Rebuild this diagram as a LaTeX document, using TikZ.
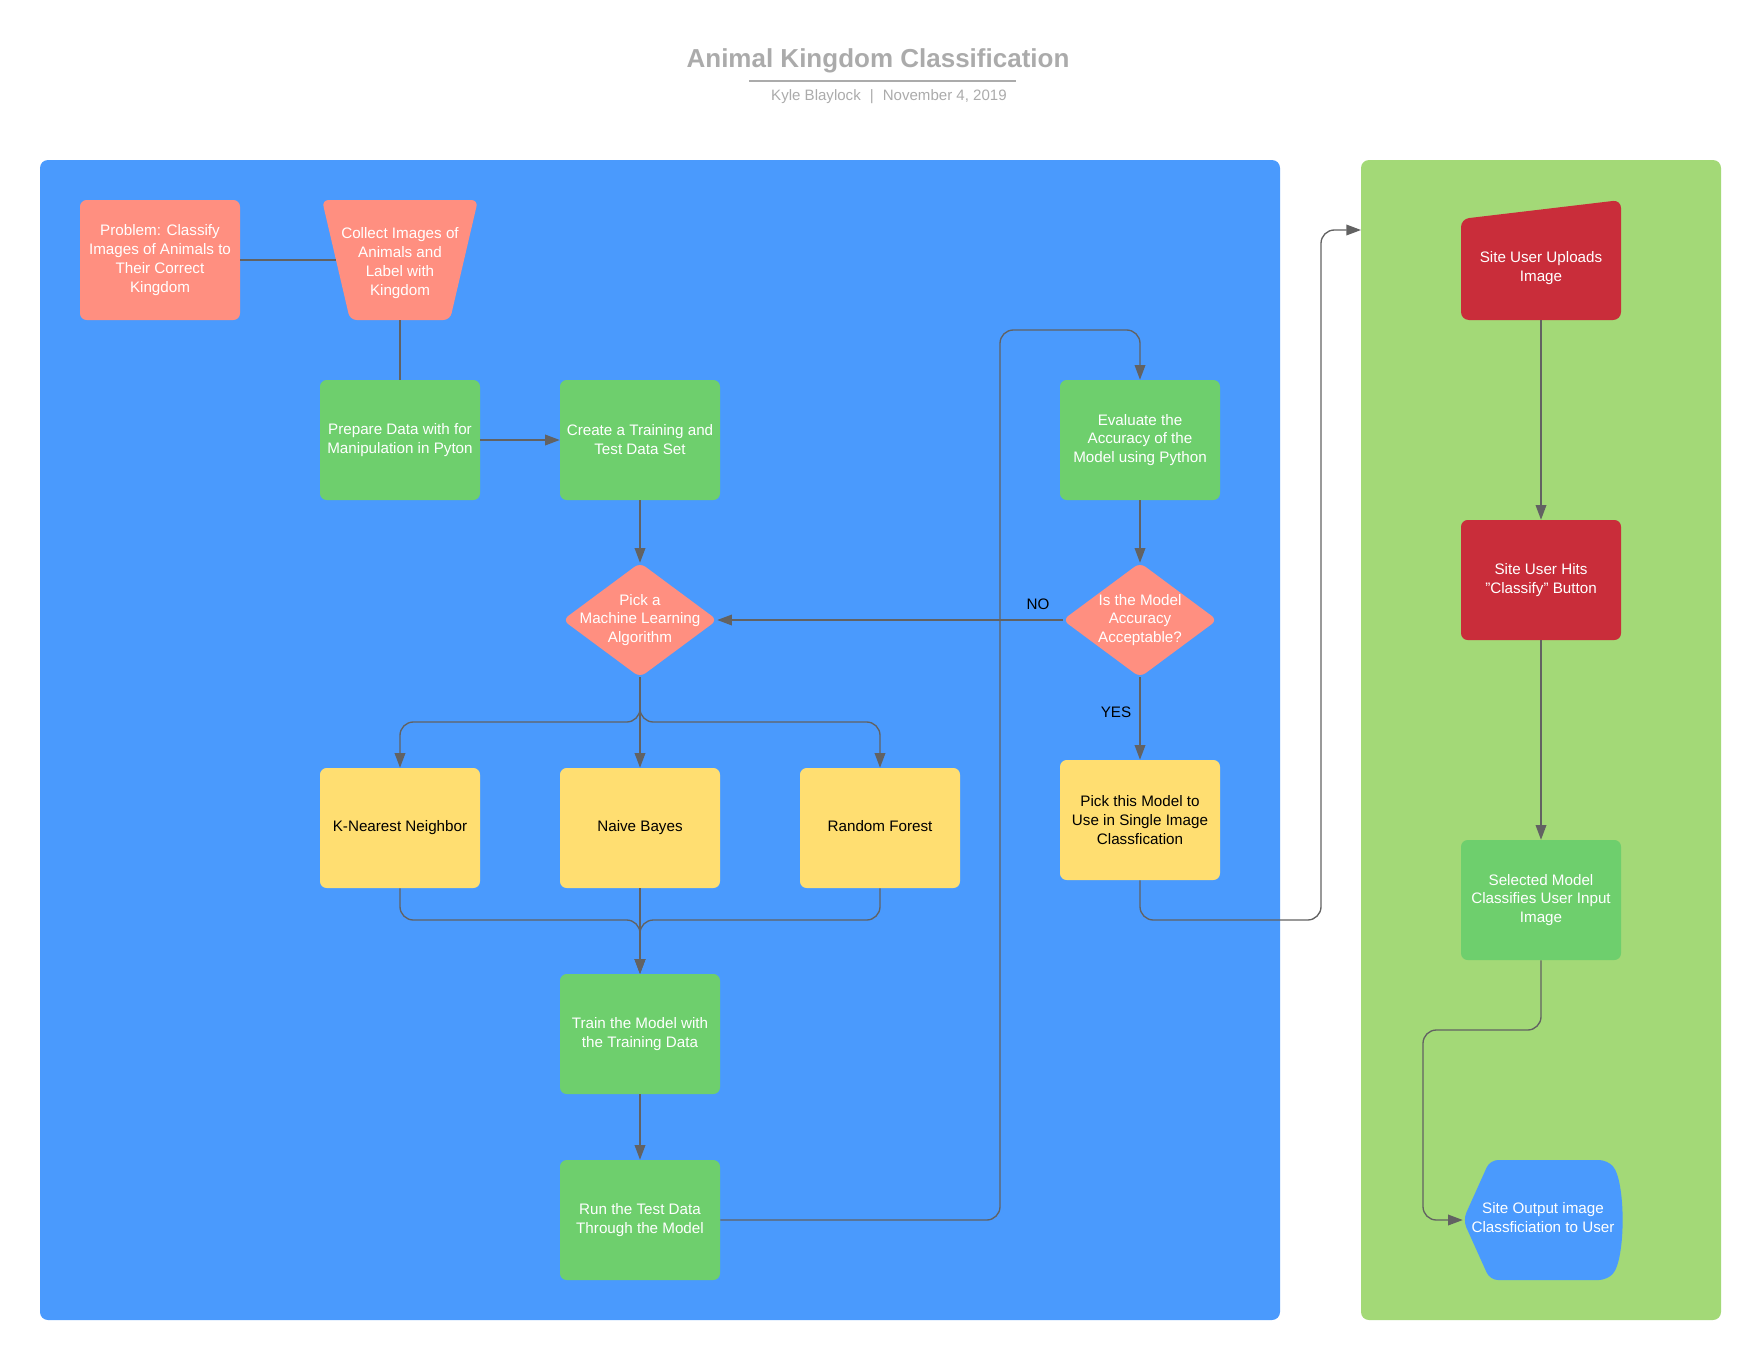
\documentclass[tikz,border=0pt]{standalone}
\usepackage{fontspec}
\setmainfont{Liberation Sans}
\usetikzlibrary{arrows.meta,calc}

\definecolor{panelblue}{HTML}{4A9AFD}
\definecolor{panelgreen}{HTML}{A3D977}
\definecolor{salmon}{HTML}{FF8F80}
\definecolor{leaf}{HTML}{6ECF6D}
\definecolor{butter}{HTML}{FFDE71}
\definecolor{crimson}{HTML}{C92D3A}
\definecolor{wire}{HTML}{626262}
\definecolor{titlegray}{HTML}{ABABAB}

\newcommand\boxfont{\fontsize{11.4}{14.2}\selectfont}

\tikzset{
  card/.style={rectangle, rounded corners=5pt, minimum width=120pt, minimum height=90pt,
               inner sep=0pt, align=center, font=\boxfont, text=white},
  greencard/.style={card, fill=leaf},
  salmoncard/.style={card, fill=salmon},
  yellowcard/.style={card, fill=butter, text=black},
  redcard/.style={card, fill=crimson},
  oneline/.style={text height=8.2pt, text depth=2.4pt},
  frame/.style={rectangle, inner sep=0pt, align=center, font=\boxfont, text=white},
  conn/.style={draw=wire, line width=1pt, rounded corners=10pt},
  tip/.style={-{Triangle[length=11pt,width=8pt]}},
  lbl/.style={font=\boxfont, text=black},
}

\begin{document}
\begin{tikzpicture}[x=0.75pt,y=-0.75pt]
\useasboundingbox (0,0) rectangle (1760,1360);

% heading
\node[anchor=base, font=\bfseries\fontsize{19.5}{22}\selectfont, text=titlegray] (title) at (878,67) {Animal Kingdom Classification};
\draw[titlegray, line width=1.5pt] (749,81) -- (1016,81);
\node[anchor=base, font=\fontsize{11.3}{13}\selectfont, text=titlegray] (byline) at (889,100)
  {Kyle Blaylock\hspace{0.6em}|\hspace{0.6em}November 4, 2019};

% swimlane panels
\fill[panelblue, rounded corners=6pt] (40,160) rectangle (1280,1320);
\fill[panelgreen, rounded corners=6pt] (1361,160) rectangle (1721,1320);

% ---- model building lane ----
\node[salmoncard] (problem) at (160,260) {Problem: Classify\\Images of Animals to\\Their Correct\\Kingdom};

\fill[salmon, rounded corners=5pt] (322,200) -- (478,200) -- (450,320) -- (350,320) -- cycle;
\node[frame, minimum width=96pt, minimum height=90pt] (collect) at (400,260) {};
\node[frame] at (400,263) {Collect Images of\\Animals and\\Label with\\Kingdom};

\node[greencard] (prepare) at (400,440) {Prepare Data with for\\Manipulation in Pyton};
\node[greencard] (create) at (640,440) {Create a Training and\\Test Data Set};
\node[greencard] (evaluate) at (1140,440) {Evaluate the\\Accuracy of the\\Model using Python};

% decision diamonds
\node[frame, minimum width=115.5pt, minimum height=85.5pt] (pick) at (640,620) {};
\fill[salmon, rounded corners=5pt] (pick.north) -- (pick.east) -- (pick.south) -- (pick.west) -- cycle;
\node[frame] at (640,620) {Pick a\\Machine Learning\\Algorithm};

\node[frame, minimum width=115.5pt, minimum height=85.5pt] (ismodel) at (1140,620) {};
\fill[salmon, rounded corners=5pt] (ismodel.north) -- (ismodel.east) -- (ismodel.south) -- (ismodel.west) -- cycle;
\node[frame] at (1140,620) {Is the Model\\Accuracy\\Acceptable?};

\node[yellowcard, oneline] (knn) at (400,828) {K-Nearest Neighbor};
\node[yellowcard, oneline] (naive) at (640,828) {Naive Bayes};
\node[yellowcard, oneline] (forest) at (880,828) {Random Forest};
\node[yellowcard] (pickthis) at (1140,820) {Pick this Model to\\Use in Single Image\\Classfication};

\node[greencard] (train) at (640,1034) {Train the Model with\\the Training Data};
\node[greencard] (run) at (640,1220) {Run the Test Data\\Through the Model};

% ---- website lane ----
\fill[crimson, rounded corners=6pt] (1461,219) -- (1621,200) -- (1621,320) -- (1461,320) -- cycle;
\node[frame, minimum width=120pt, minimum height=90pt] (uploads) at (1541,260) {};
\node[frame] at (1541,268) {Site User Uploads\\Image};

\node[redcard] (hits) at (1541,580) {Site User Hits\\\symbol{34}Classify\symbol{34} Button};
\node[greencard] (selected) at (1541,900) {Selected Model\\Classifies User Input\\Image};

\fill[panelblue, rounded corners=6pt] (1463,1220) -- (1490,1160) -- (1607,1160)
  .. controls (1626,1180) and (1626,1260) .. (1607,1280) -- (1490,1280) -- cycle;
\node[frame, minimum width=118.5pt, minimum height=90pt] (output) at (1542,1220) {};
\node[frame] at (1543,1218) {Site Output image\\Classficiation to User};

% ---- connectors ----
\coordinate (split) at (640,722);
\coordinate (merge) at (640,920);
\coordinate (loopfoot) at (1000,1220);
\coordinate (looptop) at (1000,330);
\coordinate (handoff) at (1140,920);
\coordinate (gapline) at (1321,920);
\coordinate (laneentry) at (1361,230);
\coordinate (dropdown) at (1541,1030);
\coordinate (sideline) at (1423,1030);

\draw[conn] (problem.east) -- (collect.west);
\draw[conn] (collect.south) -- (prepare.north);
\draw[conn, tip] (prepare.east) -- (create.west);
\draw[conn, tip] (create.south) -- (pick.north);
\draw[conn, tip] (evaluate.south) -- (ismodel.north);
\draw[conn, tip] (ismodel.west) -- (pick.east);
\node[lbl] (nolabel) at (1038,604) {NO};
\draw[conn, tip] (ismodel.south) -- (pickthis.north);
\node[lbl] (yeslabel) at (1116,712) {YES};

\draw[conn, tip] (pick.south) -- (split) -| (knn.north);
\draw[conn, tip] (pick.south) -- (naive.north);
\draw[conn, tip] (pick.south) -- (split) -| (forest.north);

\draw[conn, tip] (knn.south) |- (merge) -- (train.north);
\draw[conn, tip] (naive.south) -- (train.north);
\draw[conn, tip] (forest.south) |- (merge) -- (train.north);

\draw[conn, tip] (train.south) -- (run.north);
\draw[conn, tip] (run.east) -- (loopfoot) -- (looptop) -| (evaluate.north);

\draw[conn, tip] (pickthis.south) -- (handoff) -- (gapline) |- (laneentry);

\draw[conn, tip] (uploads.south) -- (hits.north);
\draw[conn, tip] (hits.south) -- (selected.north);
\draw[conn, tip] (selected.south) -- (dropdown) -- (sideline) |- (output.west);

\end{tikzpicture}
\end{document}
